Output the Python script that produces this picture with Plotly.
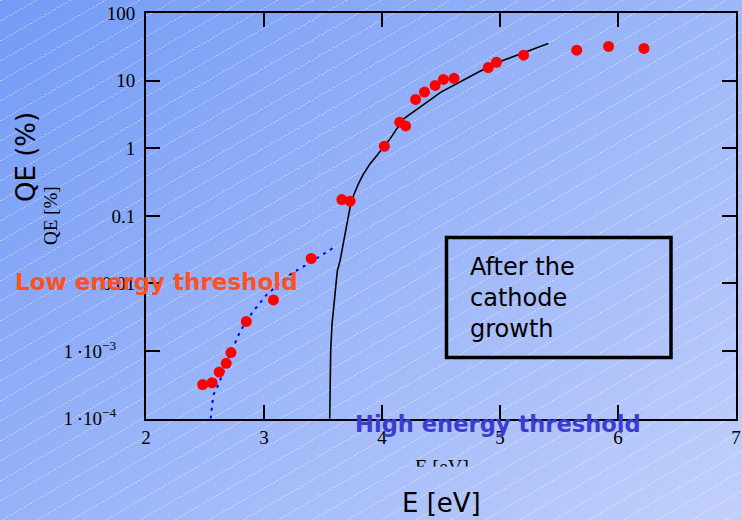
import base64, struct, zlib
import numpy as np
import plotly.graph_objects as go

# ---------------- data ----------------
qe_e = [2.48, 2.56, 2.62, 2.68, 2.72, 2.85, 3.08, 3.40, 3.66, 3.73,
        4.02, 4.15, 4.20, 4.285, 4.36, 4.45, 4.52, 4.61, 4.90, 4.97,
        5.20, 5.65, 5.92, 6.22]
qe_val = [3.2e-4, 3.4e-4, 4.9e-4, 6.6e-4, 9.5e-4, 2.75e-3, 5.7e-3, 0.0234, 0.174, 0.165,
          1.07, 2.43, 2.14, 5.27, 6.77, 8.5, 10.4, 10.8, 15.6, 18.7,
          23.8, 28.2, 32.0, 29.9]

fit_high_e = [3.557, 3.565, 3.576, 3.596, 3.621, 3.644, 3.672, 3.701, 3.729, 3.763,
              3.799, 3.842, 3.898, 3.955, 4.011, 4.068, 4.125, 4.18, 4.322, 4.5,
              4.83, 5.028, 5.409]
fit_high_log = [-4.0, -3.007, -2.61, -2.215, -1.818, -1.67, -1.422, -1.125, -0.878, -0.679,
                -0.53, -0.382, -0.233, -0.11, 0.013, 0.138, 0.287, 0.43, 0.608, 0.83,
                1.138, 1.30, 1.55]

fit_low_e = [2.548, 2.57, 2.613, 2.712, 2.797, 2.909, 3.023, 3.22, 3.404, 3.60]
fit_low_log = [-4.0, -3.65, -3.50, -3.056, -2.71, -2.41, -2.165, -1.868, -1.674, -1.46]

x_ticks = [2, 3, 4, 5, 6, 7]
y_tickvals = [100, 10, 1, 0.1, 0.01, 1e-3, 1e-4]
y_ticktext = ["100", "10", "1", "0.1", "0.01",
              "1\u2009·10<sup>−3</sup>\u2002\u2002", "1\u2009·10<sup>−4</sup>\u2002\u2002"]

# ---------------- background image (gradient + hatching) ----------------
W, H = 742, 520
yy, xx = np.mgrid[0:H, 0:W].astype(float)
t = (xx / W * 0.55 + yy / H * 0.45)
c0 = np.array([116, 155, 246], float)
c1 = np.array([194, 208, 252], float)
img = c0[None, None, :] + (c1 - c0)[None, None, :] * t[:, :, None]
phase = np.mod(yy + 0.58 * xx, 20.0)
line_mask = (phase < 1.0) & (np.mod(xx, 3) < 2)
img[line_mask] = img[line_mask] * 0.6 + 255 * 0.4
img = np.clip(img, 0, 255).astype(np.uint8)

def png_bytes(arr):
    h, w, _ = arr.shape
    raw = b"".join(b"\x00" + arr[r].tobytes() for r in range(h))
    def chunk(tag, data):
        c = struct.pack(">I", len(data)) + tag + data
        return c + struct.pack(">I", zlib.crc32(tag + data) & 0xffffffff)
    return (b"\x89PNG\r\n\x1a\n" + chunk(b"IHDR", struct.pack(">IIBBBBB", w, h, 8, 2, 0, 0, 0))
            + chunk(b"IDAT", zlib.compress(raw, 9)) + chunk(b"IEND", b""))

bg_uri = "data:image/png;base64," + base64.b64encode(png_bytes(img)).decode()

# ---------------- layout geometry (pixel -> paper) ----------------
L, R, T, B = 146, 736, 13, 418.7

def px(x):
    return x / W

def py(y):
    return 1 - y / H

COMIC = "DejaVu Sans, sans-serif"
SERIF = "Liberation Serif, Times New Roman, serif"

fig = go.Figure()
fig.add_trace(go.Scatter(x=fit_low_e, y=[10 ** v for v in fit_low_log], mode="lines",
                         line=dict(color="#0000ff", width=2, dash="3px,5px"), showlegend=False))
fig.add_trace(go.Scatter(x=fit_high_e, y=[10 ** v for v in fit_high_log], mode="lines",
                         line=dict(color="black", width=1.6), showlegend=False))
fig.add_trace(go.Scatter(x=qe_e, y=qe_val, mode="markers",
                         marker=dict(color="#ff0000", size=11, line=dict(width=0)), showlegend=False))

# clipped small axis title (only its top part is visible in the original)
CLIP_TOP, CLIP_BOT = 440, 466.5
fig.add_trace(go.Scatter(x=[px(442)], y=[(CLIP_BOT - 459) / (CLIP_BOT - CLIP_TOP)],
                         mode="text", text=["E [eV]"], textposition="bottom center",
                         textfont=dict(family=SERIF, size=20, color="black"),
                         cliponaxis=True, xaxis="x2", yaxis="y2", showlegend=False,
                         hoverinfo="skip"))

fig.update_layout(
    width=W, height=H,
    margin=dict(l=0, r=0, t=0, b=0, pad=0, autoexpand=False),
    paper_bgcolor="#9db5f8", plot_bgcolor="rgba(0,0,0,0)",
    images=[dict(source=bg_uri, xref="paper", yref="paper", x=0, y=1,
                 sizex=1, sizey=1, sizing="stretch", xanchor="left",
                 yanchor="top", layer="below")],
    xaxis=dict(domain=[px(L), px(R)], range=[2, 7], tickvals=x_ticks,
               ticktext=[str(v) for v in x_ticks], automargin=False,
               ticks="inside", ticklen=14, tickwidth=1.5, tickcolor="black",
               showline=True, linewidth=2, linecolor="black", mirror="ticks",
               showgrid=False, zeroline=False,
               tickfont=dict(family=SERIF, size=19, color="black")),
    yaxis=dict(domain=[py(B), py(T)], type="log", range=[-4, 2], tickvals=y_tickvals,
               ticktext=y_ticktext, automargin=False,
               ticks="inside", ticklen=14, tickwidth=1.5, tickcolor="black",
               showline=True, linewidth=2, linecolor="black", mirror="ticks",
               showgrid=False, zeroline=False, ticklabelstandoff=5,
               tickfont=dict(family=SERIF, size=19, color="black")),
    xaxis2=dict(domain=[0, 1], range=[0, 1], visible=False, anchor="y2", automargin=False),
    yaxis2=dict(domain=[py(CLIP_BOT), py(CLIP_TOP)], range=[0, 1], visible=False,
                anchor="x2", automargin=False),
    shapes=[dict(type="rect", xref="paper", yref="paper", x0=px(446.5), x1=px(671),
                 y0=py(357.5), y1=py(237.5), line=dict(color="black", width=3.5),
                 fillcolor="rgba(0,0,0,0)", layer="above")],
)

ann = [
    dict(text="QE (%)", x=px(25.5), y=py(157.5), textangle=-90,
         font=dict(family=COMIC, size=26, color="black")),
    dict(text="QE [%]", x=px(50), y=py(215), textangle=-90,
         font=dict(family=SERIF, size=19, color="black")),
    dict(text="<b>Low energy threshold</b>", x=px(156.5), y=py(282),
         font=dict(family=COMIC, size=23, color="#ff5020")),
    dict(text="<b>High energy threshold</b>", x=px(497.5), y=py(424),
         font=dict(family=COMIC, size=22.6, color="#3c3cd0")),
    dict(text="After the<br>cathode<br>growth", x=px(468), y=py(298), xanchor="left",
         align="left", font=dict(family=COMIC, size=24, color="black")),
    dict(text="E [eV]", x=px(441), y=py(503),
         font=dict(family=COMIC, size=26, color="black")),
]
for a in ann:
    a.update(xref="paper", yref="paper", showarrow=False)
    a.setdefault("xanchor", "center")
    a.setdefault("yanchor", "middle")
fig.update_layout(annotations=ann)

fig.write_html("out.html", config={"displayModeBar": False},
               post_script="document.body.style.margin='0px';document.body.style.overflow='hidden';")
